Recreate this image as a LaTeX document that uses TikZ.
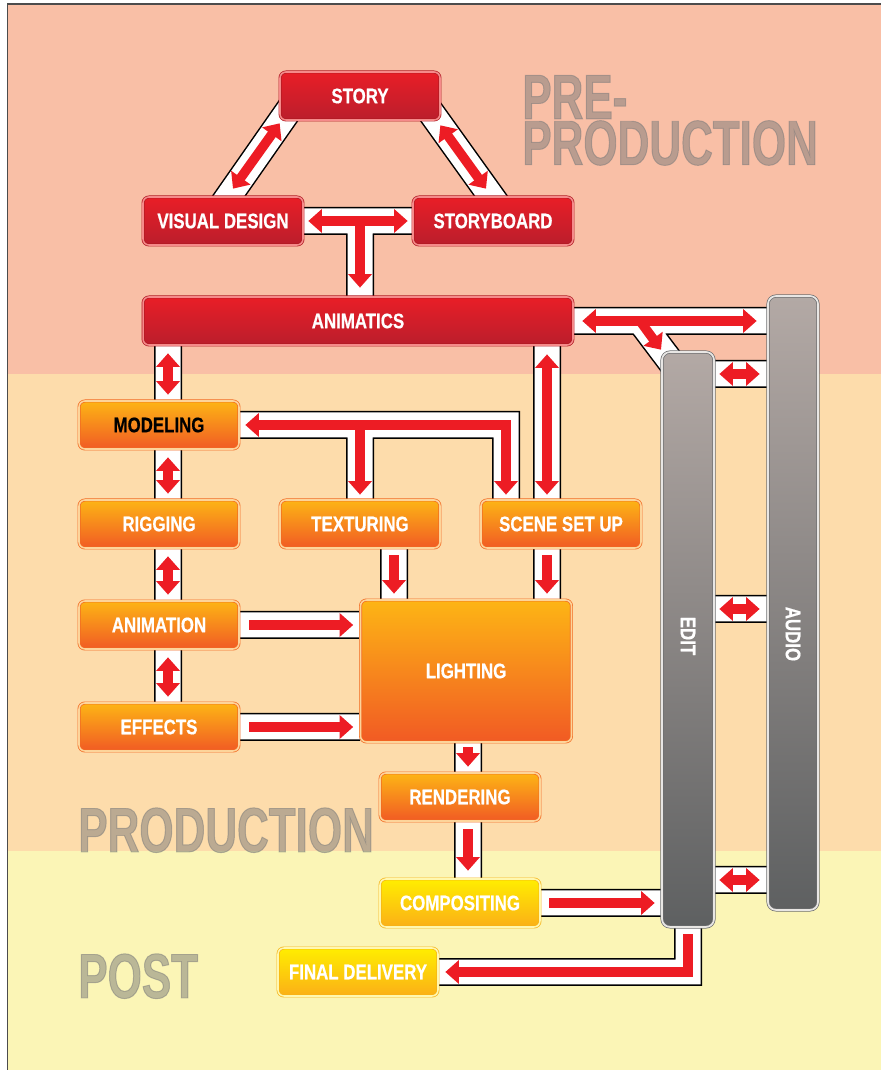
\documentclass[tikz,border=0pt]{standalone}
\usepackage{fontspec}
\setmainfont{Liberation Sans}
\newfontfamily\boxfont[FakeStretch=0.8,FakeBold=0.5]{Liberation Sans}
\newfontfamily\bigfont[FakeStretch=0.695,FakeBold=1.5]{Liberation Sans}
\usetikzlibrary{arrows.meta,calc}
\pgfdeclarelayer{back}
\pgfdeclarelayer{lanes}
\pgfsetlayers{back,lanes,main}
\definecolor{bandpink}{HTML}{F9BFA6}
\definecolor{bandpeach}{HTML}{FDDCAB}
\definecolor{bandyellow}{HTML}{FBF5B6}
\definecolor{arrowred}{HTML}{ED1C24}
\definecolor{redtop}{HTML}{E91E27}
\definecolor{redbot}{HTML}{BA1E2C}
\definecolor{redline}{HTML}{B01A22}
\definecolor{redshine}{HTML}{F58A8A}
\definecolor{orangetop}{HTML}{FDB515}
\definecolor{orangebot}{HTML}{F15A24}
\definecolor{orangeline}{HTML}{F26A22}
\definecolor{orangeshine}{HTML}{FDD49A}
\definecolor{yellowtop}{HTML}{FFEE00}
\definecolor{yellowbot}{HTML}{FBAF17}
\definecolor{yellowline}{HTML}{F6B318}
\definecolor{yellowshine}{HTML}{FFF7B0}
\definecolor{graytop}{HTML}{B3A9A5}
\definecolor{graybot}{HTML}{5E6061}
\definecolor{grayline}{HTML}{6D6E70}
\definecolor{grayshine}{HTML}{E8E6E4}
\begin{document}
\begin{tikzpicture}[x=0.02cm,y=0.02cm,>={Triangle[length=0.27cm,width=0.46cm]},
    stage/.style={rectangle,rounded corners=0.12cm,minimum width=3.2cm,minimum height=0.96cm,
      inner sep=0pt,line width=0.4pt,double distance=0.9pt,text=white,
      font=\boxfont\bfseries\fontsize{12}{12}\selectfont},
    prestage/.style={stage,draw=redline,double=redshine,top color=redtop,bottom color=redbot},
    prodstage/.style={stage,draw=orangeline,double=orangeshine,top color=orangetop,bottom color=orangebot},
    poststage/.style={stage,draw=yellowline,double=yellowshine,top color=yellowtop,bottom color=yellowbot},
    bar/.style={rectangle,rounded corners=0.16cm,inner sep=0pt,line width=0.4pt,double distance=1pt,
      draw=grayline,double=grayshine,top color=graytop,bottom color=graybot},
    bartext/.style={text=white,inner sep=0pt,rotate=-90,font=\boxfont\bfseries\fontsize{12}{12}\selectfont},
    biglabel/.style={inner sep=0pt,text=black!52,text opacity=0.5,
      font=\bigfont\bfseries\fontsize{36}{25}\selectfont}]
\useasboundingbox (0,0) rectangle (881,1070);

% pre-production
\node[prestage] (story) at (360,974) {STORY};
\node[prestage] (vis) at (223,849) {VISUAL DESIGN};
\node[prestage] (sboard) at (493,849) {STORYBOARD};
\node[prestage,minimum width=8.6cm] (anim) at (358,749) {ANIMATICS};
% production
\node[prodstage,text=black] (model) at (159,645) {MODELING};
\node[prodstage] (rig) at (159,546) {RIGGING};
\node[prodstage] (tex) at (360,546) {TEXTURING};
\node[prodstage] (scene) at (561,546) {SCENE SET UP};
\node[prodstage] (animation) at (159,445) {ANIMATION};
\node[prodstage] (fx) at (159,343) {EFFECTS};
\node[prodstage,minimum width=4.22cm,minimum height=2.84cm] (light) at (466,399) {LIGHTING};
\node[prodstage] (render) at (460,273) {RENDERING};
% post
\node[poststage] (comp) at (460,167) {COMPOSITING};
\node[poststage] (final) at (358,98) {FINAL DELIVERY};
\node[bar,minimum width=1.04cm,minimum height=11.5cm] (edit) at (688,430.5) {};
\node[bar,minimum width=1cm,minimum height=12.28cm] (audio) at (793,467) {};
\node[bartext] (editlbl) at (688,434) {EDIT};
\node[bartext] (audiolbl) at (793,436) {AUDIO};

\coordinate (lx) at (168,0);
\coordinate (tx) at (394,0);
\coordinate (rx) at (506,0);
\coordinate (sx) at (547,0);
\coordinate (cx) at (468,0);
\coordinate (fork) at (640,749);
\coordinate (link1) at (0,696);
\coordinate (link2) at (0,461);
\coordinate (link3) at (0,190);

\begin{pgfonlayer}{back}
  \fill[white] (0,0) rectangle (881,1070);
  \fill[bandpink] (8,696) rectangle (881,1066);
  \fill[bandpeach] (8,219) rectangle (881,696);
  \fill[bandyellow] (8,0) rectangle (881,219);
  \draw[black!70,line width=0.7pt] (7.5,0) -- (7.5,1066) -- (881,1066);
  \node[biglabel,align=left,anchor=north west] (prelbl) at (522,995) {PRE-\\PRODUCTION};
  \node[biglabel,anchor=base west] (prodlbl) at (78,218) {PRODUCTION};
  \node[biglabel,anchor=base west] (postlbl) at (78,72) {POST};
\end{pgfonlayer}

\begin{pgfonlayer}{lanes}
  % white lanes with black edges
  \foreach \w/\c in {0.56cm/black,0.5cm/white}
  \draw[line width=\w,draw=\c,line join=miter]
    ($(vis.north)+(-3,-12)$) -- ($(story.south west)+(16,20)$)
    ($(sboard.north)+(7,-12)$) -- ($(story.south east)+(-18,20)$)
    (vis.east) -- (sboard.west)
    (vis.east -| story.south) -- (story.south |- anim.north)
    (lx |- anim.south) -- (lx |- fx.north)
    (model.east) -| (rx |- scene.north)
    (model.east -| tex.north) -- (tex.north)
    (sx |- anim.south) -- (sx |- light.north)
    (tx |- tex.south) -- (tx |- light.north)
    (animation.east) -- (animation.east -| light.west)
    (fx.east) -- (fx.east -| light.west)
    (cx |- light.south) -- (cx |- comp.north)
    (comp.east) -- (comp.east -| edit.west)
    (edit.south) |- (final.east)
    (anim.east) -- (anim.east -| audio.west)
    (fork) -- ($(edit.north)+(-15,-13)$)
    (edit.east |- link1) -- (audio.west |- link1)
    (edit.east |- link2) -- (audio.west |- link2)
    (edit.east |- link3) -- (audio.west |- link3);
  % red arrows
  \begin{scope}[draw=arrowred,line width=0.19cm]
    \draw[<->] ($(vis.north)+(10,8)$) -- ($(story.south west)+(0,-3)$);
    \draw[<->] ($(sboard.north)+(-7,8)$) -- ($(story.south east)+(0,-5)$);
    \draw[<->] ($(vis.east)+(5,0)$) -- ($(sboard.west)+(-5,0)$);
    \draw[->] (vis.east -| story.south) -- ($(story.south |- anim.north)+(0,9)$);
    \foreach \a/\b in {anim/model,model/rig,rig/animation,animation/fx}
      \draw[<->] ($(lx |- \a.south)+(0,-8)$) -- ($(lx |- \b.north)+(0,6)$);
    \draw[<->,line join=miter] ($(rx |- scene.north)+(0,5)$) |- ($(model.east)+(6,0)$);
    \draw[->] (model.east -| tex.north) -- ($(tex.north)+(0,5)$);
    \draw[<->] ($(sx |- anim.south)+(0,-9)$) -- ($(sx |- scene.north)+(0,5)$);
    \draw[->] ($(sx |- scene.south)+(0,-7)$) -- ($(sx |- light.north)+(0,6)$);
    \draw[->] ($(tx |- tex.south)+(0,-7)$) -- ($(tx |- light.north)+(0,6)$);
    \draw[->] ($(animation.east)+(10,0)$) -- ($(animation.east -| light.west)+(-7,0)$);
    \draw[->] ($(fx.east)+(10,0)$) -- ($(fx.east -| light.west)+(-7,0)$);
    \draw[->] ($(cx |- light.south)+(0,-5)$) -- ($(cx |- render.north)+(0,6)$);
    \draw[->] ($(cx |- render.south)+(0,-8)$) -- ($(cx |- comp.north)+(0,8)$);
    \draw[->] ($(comp.east)+(9,0)$) -- ($(comp.east -| edit.west)+(-7,0)$);
    \draw[->,line join=miter] ($(edit.south)+(0,-7)$) |- ($(final.east)+(7,0)$);
    \draw[<->] ($(anim.east)+(9,0)$) -- ($(anim.east -| audio.west)+(-11,0)$);
    \draw[->] (fork) -- ($(edit.north)+(-27,2)$);
    \foreach \l in {link1,link2,link3}
      \draw[<->] ($(edit.east |- \l)+(5,0)$) -- ($(audio.west |- \l)+(-8,0)$);
  \end{scope}
\end{pgfonlayer}
\end{tikzpicture}
\end{document}
